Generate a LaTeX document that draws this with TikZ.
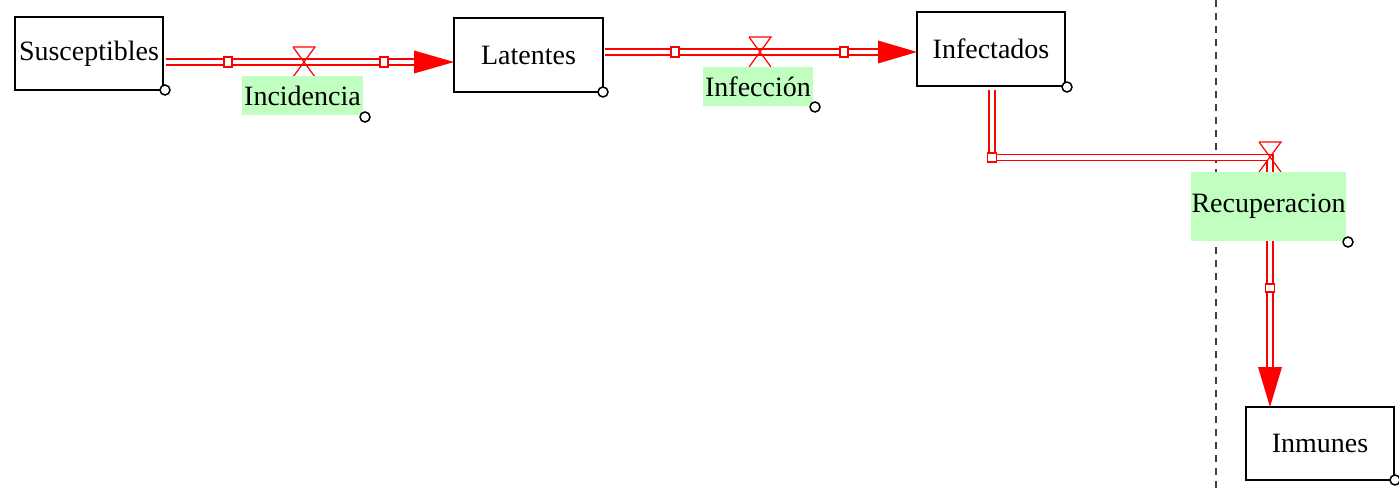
\documentclass[tikz,border=0pt]{standalone}
\usepackage{fontspec}
\setmainfont{Liberation Serif}
\definecolor{lblgreen}{HTML}{C0FFC0}
\begin{document}
\begin{tikzpicture}[x=1pt,y=-1pt,
  stock/.style={draw=black,line width=1.6pt,fill=white,inner sep=0pt,font=\fontsize{28}{30}\selectfont},
  ratelbl/.style={fill=lblgreen,inner sep=0pt,font=\fontsize{28}{30}\selectfont},
  pipe/.style={draw=red,line width=1.3pt,double=white,double distance=4.6pt},
  tipfill/.style={fill=red,draw=none},
  knob/.style={circle,draw=black,fill=white,line width=1.5pt,minimum size=10pt,inner sep=0pt},
  sq/.style={draw=red,fill=white,line width=1.2pt,minimum width=8pt,minimum height=10pt,inner sep=0pt},
  valveline/.style={draw=red,line width=1.2pt},
  sep/.style={draw=black!75,line width=2pt,dash pattern=on 7pt off 6pt}
]
\useasboundingbox (0,0) rectangle (1399,489);
% separator
\coordinate (d1) at (1216,0);
\coordinate (d2) at (1216,489);
\draw[sep] (d1) -- (d2);

% stocks
\node[stock,minimum width=148pt,minimum height=73pt] (S) at (89,53.5) {\raisebox{-2pt}{Susceptibles}};
\node[stock,minimum width=149pt,minimum height=74pt] (L) at (528.5,55) {Latentes};
\node[stock,minimum width=148pt,minimum height=74pt] (I) at (991,49) {Infectados};
\node[stock,minimum width=148pt,minimum height=73pt] (R) at (1320,443.5) {Inmunes};

% flow 1
\coordinate (f1a) at (166,62);
\coordinate (f1b) at (416,62);
\coordinate (f1t) at (454,62);
\draw[pipe] (f1a) -- (f1b);
\fill[tipfill] (414,50.5) -- (f1t) -- (414,73.5) -- cycle;
\node[sq] (q1a) at (228,62) {};
\node[sq] (q1b) at (384,62) {};
\draw[valveline] (293,47) -- (315,47) -- (293,77);
\draw[valveline] (293,47) -- (315,77);
\node[ratelbl,minimum width=121pt,minimum height=39pt] (rI) at (302.5,95.5) {Incidencia};

% flow 2
\coordinate (f2a) at (605,52);
\coordinate (f2b) at (880,52);
\coordinate (f2t) at (917,52);
\draw[pipe] (f2a) -- (f2b);
\fill[tipfill] (878,40.5) -- (f2t) -- (878,63.5) -- cycle;
\node[sq] (q2a) at (675,52) {};
\node[sq] (q2b) at (844,52) {};
\draw[valveline] (749,37) -- (771,37) -- (749,67);
\draw[valveline] (749,37) -- (771,67);
\node[ratelbl,minimum width=110pt,minimum height=39pt] (rF) at (758,86.5) {Infección};

% flow 3
\coordinate (f3a) at (992,90);
\coordinate (f3c) at (992,157.5);
\coordinate (f3v) at (1270,157.5);
\coordinate (f3d) at (1270,369);
\coordinate (f3t) at (1270,407);
\draw[pipe] (f3a) -- (f3c) -- (f3v) -- (f3d);
\fill[tipfill] (1258,367) -- (f3t) -- (1282,367) -- cycle;
\node[sq,minimum width=9pt,minimum height=9pt] (q3a) at (992,157.5) {};
\node[sq,minimum width=9pt,minimum height=8pt] (q3b) at (1270,288) {};
\draw[valveline] (1259,142) -- (1281,142) -- (1259,172);
\draw[valveline] (1259,142) -- (1281,172);
\node[ratelbl,minimum width=155pt,minimum height=69pt] (rR) at (1268.5,206.5) {Recuperacion};

% knobs
\node[knob] (k1) at (165,90) {};
\node[knob] (k2) at (603,92) {};
\node[knob] (k3) at (1067,87) {};
\node[knob] (k4) at (1395,480) {};
\node[knob] (k5) at (365,117) {};
\node[knob] (k6) at (815,107) {};
\node[knob] (k7) at (1348,242) {};
\end{tikzpicture}
\end{document}
